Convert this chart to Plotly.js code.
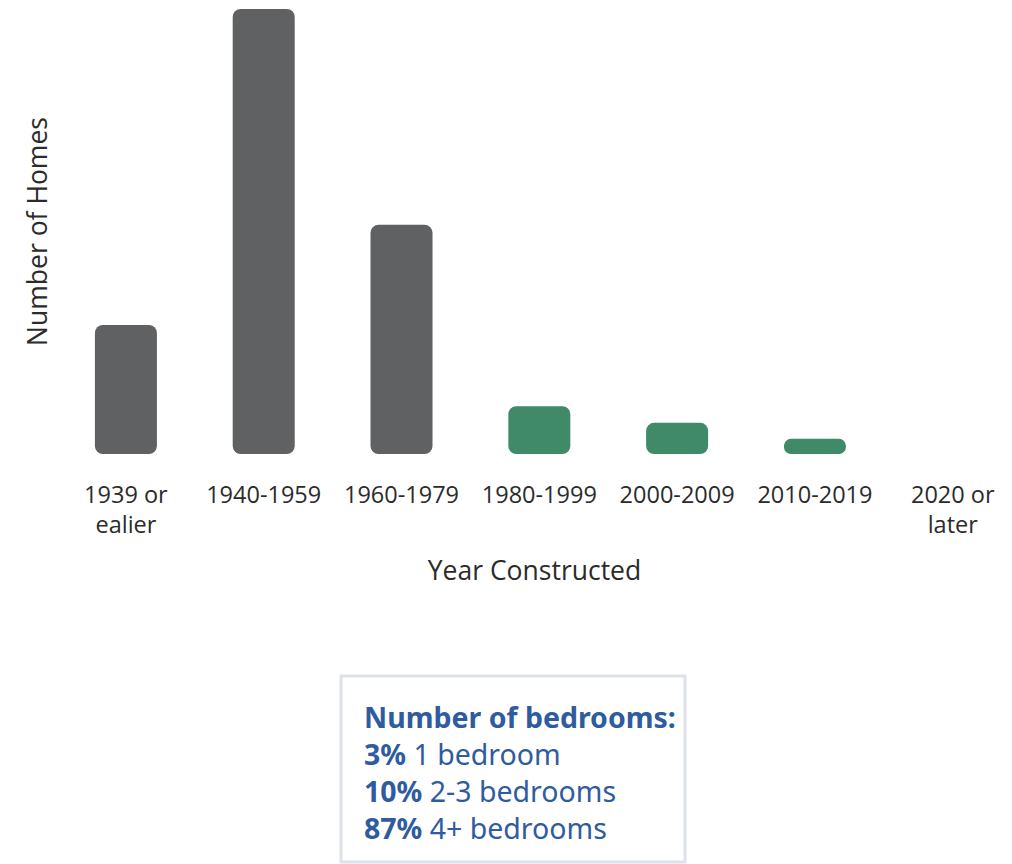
<!DOCTYPE html>
<html>
<head>
<meta charset="utf-8">
<script src="https://cdn.plot.ly/plotly-3.0.1.min.js"></script>
<style>html,body{margin:0;padding:0;background:#fff;}#chart{width:1012px;height:864px;}</style>
</head>
<body>
<div id="chart"></div>
<script>
const categories = ["1939 or<br>ealier", "1940-1959", "1960-1979", "1980-1999", "2000-2009", "2010-2019", "2020 or<br>later"];
const homes = [580, 2000, 1030, 215, 140, 68, 0];
const barColors = ["#606163", "#606163", "#606163", "#408a6a", "#408a6a", "#408a6a", "#408a6a"];
const boxLines = [
  "<b>Number of bedrooms:</b>",
  "<b>3%</b> 1 bedroom",
  "<b>10%</b> 2-3 bedrooms",
  "<b>87%</b> 4+ bedrooms"
];

const bars = {
  type: "bar",
  x: categories,
  y: homes,
  base: homes.map(() => 0),
  marker: {color: barColors, cornerradius: 8},
  hoverinfo: "skip",
  showlegend: false
};

const layout = {
  width: 1012, height: 864,
  margin: {l: 57, r: 0, t: 9, b: 410},
  paper_bgcolor: "#fff", plot_bgcolor: "#fff",
  bargap: 0.55,
  font: {family: "Open Sans", size: 22, color: "#2b2b2b"},
  xaxis: {
    type: "category",
    range: [-0.5, 6.43],
    showgrid: false, zeroline: false, showline: false, ticks: "",
    ticklabelstandoff: 24,
    tickfont: {size: 23.5, color: "#2b2b2b"},
    title: {text: "Year Constructed", font: {size: 26.5, color: "#2b2b2b"}, standoff: 22},
    fixedrange: true
  },
  yaxis: {
    range: [0, 2000],
    showgrid: false, zeroline: false, showline: false, showticklabels: false, ticks: "",
    title: {text: "Number of Homes", font: {size: 26.5, color: "#2b2b2b"}, standoff: 0},
    fixedrange: true
  },
  shapes: [{
    type: "rect", xref: "paper", yref: "paper",
    x0: 0.2974, x1: 0.6576, y0: -0.4989, y1: -0.9169,
    line: {color: "#dde2ea", width: 3},
    fillcolor: "rgba(0,0,0,0)"
  }],
  annotations: [{
    xref: "paper", yref: "paper",
    x: 0.3194, y: -0.543, xanchor: "left", yanchor: "top",
    align: "left", showarrow: false,
    text: boxLines.join("<br>"),
    font: {family: "Noto Sans", size: 28.5, color: "#2f5b9f"}
  }]
};

Plotly.newPlot("chart", [bars], layout, {displayModeBar: false, staticPlot: true});
</script>
</body>
</html>
